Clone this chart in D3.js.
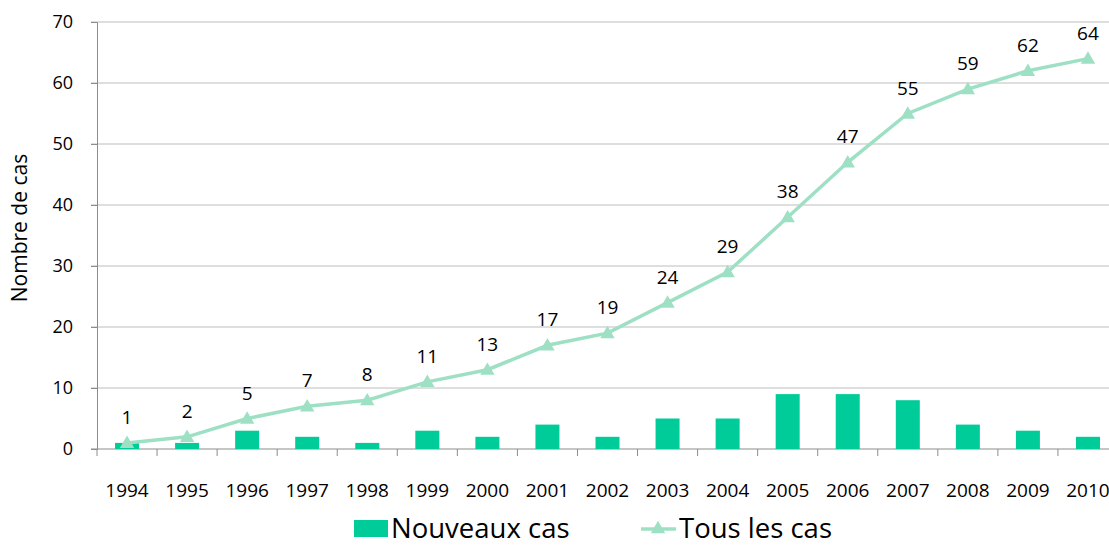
<!DOCTYPE html>
<html>
<head>
<meta charset="utf-8">
<script src="https://cdn.jsdelivr.net/npm/d3@7"></script>
<style>
  body { margin: 0; background: #fff; }
  svg text { font-family: "Open Sans", "Noto Sans", sans-serif; fill: #000; }
</style>
</head>
<body>
<div id="chart"></div>
<script>

// data
var years = ["1994","1995","1996","1997","1998","1999","2000","2001","2002","2003","2004","2005","2006","2007","2008","2009","2010"]
var nouveaux = [1,1,3,2,1,3,2,4,2,5,5,9,9,8,4,3,2]
var tous = [1,2,5,7,8,11,13,17,19,24,29,38,47,55,59,62,64]
var yTicks = [0,10,20,30,40,50,60,70]

var width = 1109, height = 546
var margin = { top: 22, right: -9, bottom: 97, left: 97 }

var barColour = "#00cc99"
var lineColour = "#9ee0c4"

var svg = d3.select("#chart").append("svg")
    .attr("width", width)
    .attr("height", height)

var x = d3.scaleBand()
    .domain(years)
    .range([margin.left, width - margin.right])

var y = d3.scaleLinear()
    .domain([0, 70])
    .range([height - margin.bottom, margin.top])

// gridlines
svg.append("g")
    .selectAll("line")
    .data(yTicks.slice(1))
    .enter().append("line")
    .attr("x1", margin.left - 6)
    .attr("x2", width)
    .attr("y1", d => y(d))
    .attr("y2", d => y(d))
    .attr("stroke", "#bdbdbd")
    .attr("stroke-width", 1)

// y axis
var yAxis = svg.append("g")
    .attr("transform", `translate(${margin.left},0)`)
    .call(d3.axisLeft(y).tickValues(yTicks).tickSize(6).tickPadding(18))

yAxis.select(".domain").attr("stroke", "#8c8c8c")
yAxis.selectAll(".tick line").attr("stroke", "#8c8c8c")
yAxis.selectAll("text").style("font-size", "18px").attr("dy", "0.3em")

// x axis
var xAxis = svg.append("g")
    .attr("transform", `translate(0,${y(0)})`)

xAxis.append("line")
    .attr("x1", margin.left - 6)
    .attr("x2", width)
    .attr("stroke", "#8c8c8c")

xAxis.selectAll(".tick")
    .data(years)
    .enter().append("line")
    .attr("x1", d => x(d))
    .attr("x2", d => x(d))
    .attr("y1", 0)
    .attr("y2", 7)
    .attr("stroke", "#8c8c8c")

xAxis.selectAll("text")
    .data(years)
    .enter().append("text")
    .attr("x", d => x(d) + x.bandwidth() / 2)
    .attr("y", 48)
    .attr("text-anchor", "middle")
    .style("font-size", "19px")
    .text(d => d)

// y title
svg.append("text")
    .attr("transform", "translate(27,228) rotate(-90)")
    .attr("text-anchor", "middle")
    .style("font-size", "21px")
    .text("Nombre de cas")

// bars
var bw = 24

svg.append("g")
    .selectAll("rect")
    .data(nouveaux)
    .enter().append("rect")
    .attr("x", (d, i) => x(years[i]) + x.bandwidth() / 2 - bw / 2)
    .attr("y", d => y(d))
    .attr("width", bw)
    .attr("height", d => y(0) - y(d))
    .attr("fill", barColour)

// line
var line = d3.line()
    .x((d, i) => x(years[i]) + x.bandwidth() / 2)
    .y(d => y(d))

svg.append("path")
    .datum(tous)
    .attr("d", line)
    .attr("fill", "none")
    .attr("stroke", lineColour)
    .attr("stroke-width", 3.5)

var tri = d3.symbol().type(d3.symbolTriangle).size(90)

svg.append("g")
    .selectAll("path")
    .data(tous)
    .enter().append("path")
    .attr("d", tri)
    .attr("transform", (d, i) => `translate(${x(years[i]) + x.bandwidth() / 2},${y(d) + 1})`)
    .attr("fill", lineColour)

// value labels
svg.append("g")
    .selectAll("text")
    .data(tous)
    .enter().append("text")
    .attr("x", (d, i) => x(years[i]) + x.bandwidth() / 2)
    .attr("y", d => y(d) - 19)
    .attr("text-anchor", "middle")
    .style("font-size", "19px")
    .text(d => d)

// legend
var legend = svg.append("g")
    .attr("transform", "translate(0,538)")

legend.append("rect")
    .attr("x", 354)
    .attr("y", -18)
    .attr("width", 34)
    .attr("height", 17)
    .attr("fill", barColour)

legend.append("text")
    .attr("x", 391)
    .attr("y", 0)
    .style("font-size", "27.5px")
    .text("Nouveaux cas")

legend.append("line")
    .attr("x1", 641)
    .attr("x2", 676)
    .attr("y1", -9)
    .attr("y2", -9)
    .attr("stroke", lineColour)
    .attr("stroke-width", 3.5)

legend.append("path")
    .attr("d", tri)
    .attr("transform", "translate(658,-9)")
    .attr("fill", lineColour)

legend.append("text")
    .attr("x", 679)
    .attr("y", 0)
    .style("font-size", "27.5px")
    .text("Tous les cas")

</script>
</body>
</html>
